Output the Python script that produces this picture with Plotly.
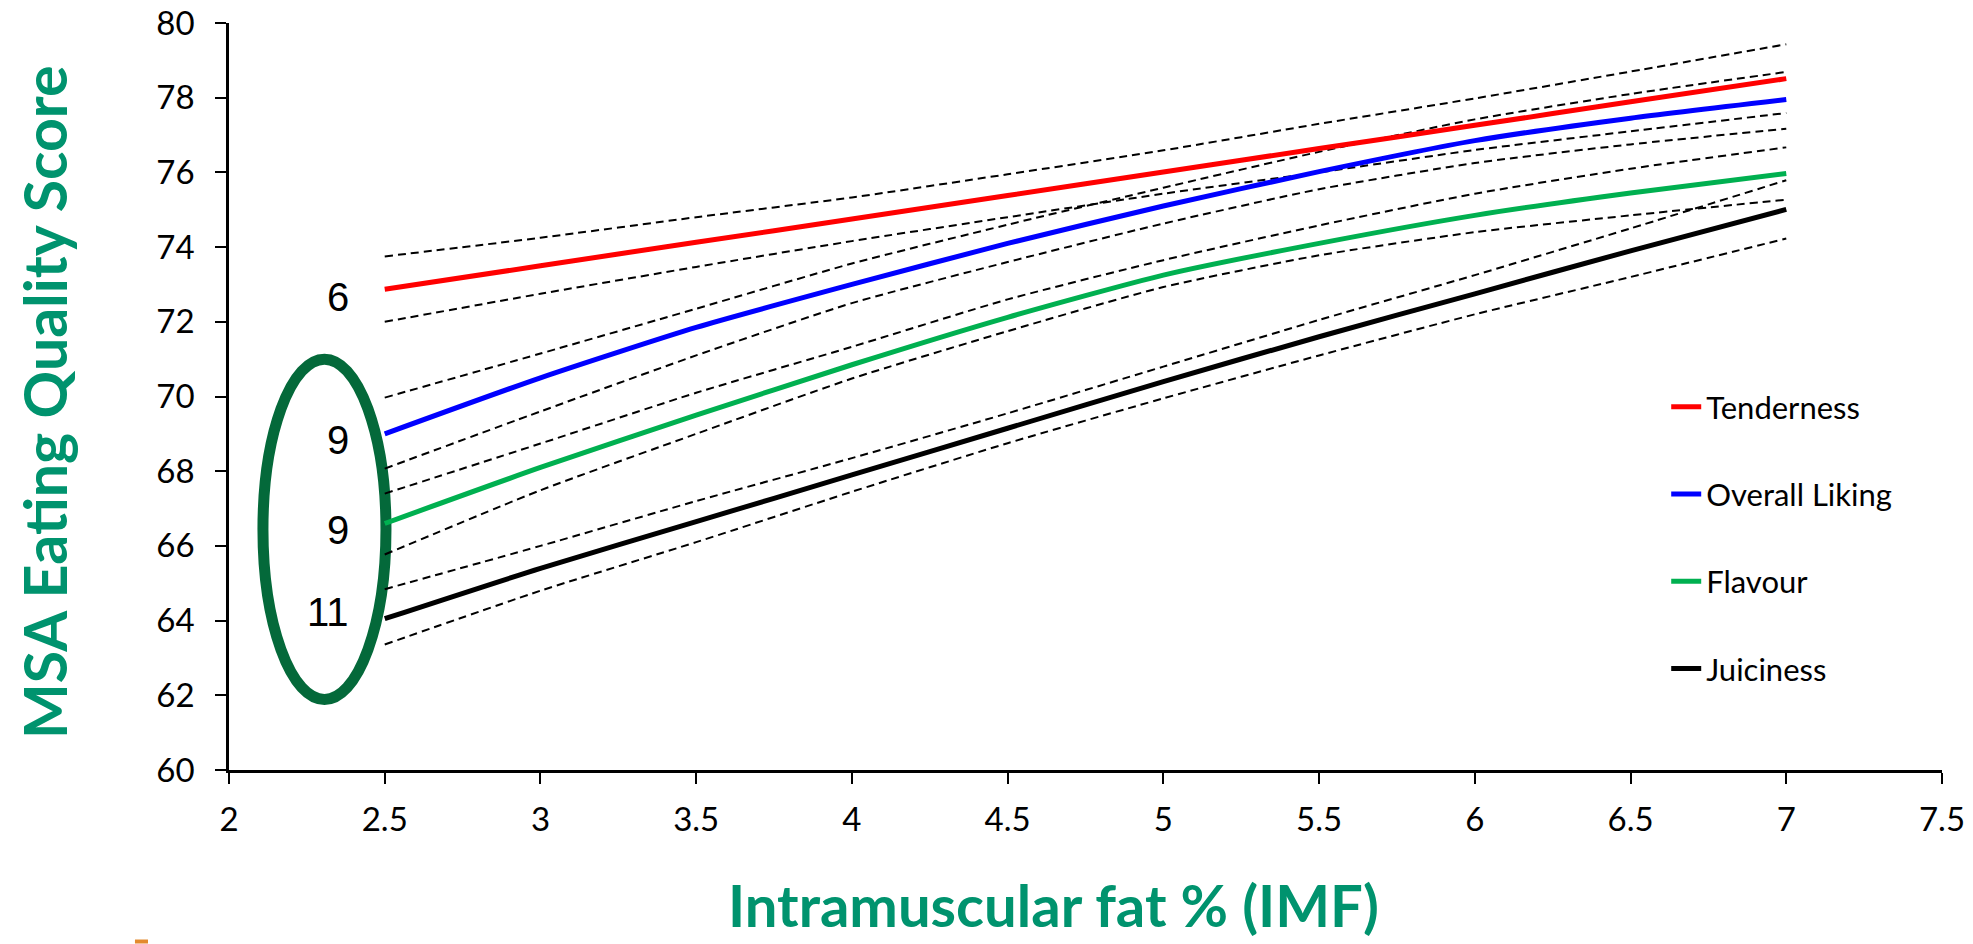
import plotly.graph_objects as go

# ---------------- data ----------------
imf = [2.5, 3.0, 3.5, 4.0, 4.5, 5.0, 5.5, 6.0, 6.5, 7.0]

tenderness    = [72.87, 73.50, 74.13, 74.75, 75.38, 76.01, 76.64, 77.26, 77.89, 78.51]
tenderness_hi = [73.75, 74.25, 74.80, 75.33, 75.95, 76.59, 77.30, 77.98, 78.70, 79.43]
tenderness_lo = [72.00, 72.75, 73.47, 74.16, 74.80, 75.43, 76.00, 76.60, 77.10, 77.59]

overall    = [69.00, 70.50, 71.85, 73.00, 74.10, 75.10, 76.02, 76.85, 77.45, 77.95]
overall_hi = [69.97, 71.15, 72.35, 73.56, 74.60, 75.59, 76.55, 77.42, 78.10, 78.69]
overall_lo = [68.07, 69.60, 71.10, 72.50, 73.60, 74.63, 75.55, 76.25, 76.75, 77.17]

flavour    = [66.60, 68.10, 69.50, 70.85, 72.12, 73.25, 74.10, 74.85, 75.45, 75.97]
flavour_hi = [67.40, 68.74, 70.10, 71.33, 72.60, 73.65, 74.58, 75.43, 76.10, 76.67]
flavour_lo = [65.77, 67.49, 69.00, 70.48, 71.75, 72.93, 73.78, 74.40, 74.85, 75.27]

juiciness    = [64.05, 65.40, 66.65, 67.90, 69.15, 70.40, 71.60, 72.75, 73.90, 75.01]
juiciness_hi = [64.84, 66.00, 67.20, 68.35, 69.55, 70.80, 72.05, 73.25, 74.50, 75.79]
juiciness_lo = [63.36, 64.80, 66.10, 67.45, 68.75, 69.95, 71.10, 72.20, 73.20, 74.23]

series_names  = ["Tenderness", "Overall Liking", "Flavour", "Juiciness"]
series_colors = ["#FF0000", "#0000FF", "#00B050", "#000000"]
series_mean = [tenderness, overall, flavour, juiciness]
series_hi   = [tenderness_hi, overall_hi, flavour_hi, juiciness_hi]
series_lo   = [tenderness_lo, overall_lo, flavour_lo, juiciness_lo]

count_labels = ["6", "9", "9", "11"]
count_label_x = [2.35, 2.35, 2.35, 2.318]
count_label_y = [72.66, 68.83, 66.42, 64.22]

title_green = "#00936E"

fig = go.Figure()

# confidence bands (dashed)
for hi, lo in zip(series_hi, series_lo):
    for band in (hi, lo):
        fig.add_trace(go.Scatter(
            x=imf, y=band, mode="lines", showlegend=False, hoverinfo="skip",
            line=dict(color="black", width=2, dash="8px,5px", shape="spline", smoothing=0.6),
        ))

# main lines
for i, (name, col, ys) in enumerate(zip(series_names, series_colors, series_mean)):
    fig.add_trace(go.Scatter(
        x=imf, y=ys, mode="lines", name=name, legendgroup=f"g{i}",
        line=dict(color=col, width=5, shape="spline", smoothing=0.6),
    ))

# count labels
for t, xx, yy in zip(count_labels, count_label_x, count_label_y):
    fig.add_annotation(x=xx, y=yy, xref="x", yref="y", text=t, showarrow=False,
                       font=dict(family="Liberation Sans, Arial", size=40, color="black"),
                       xanchor="center", yanchor="middle")

# ellipse around counts
fig.add_shape(type="circle", xref="x", yref="y", x0=2.109, x1=2.504, y0=61.89, y1=71.0,
              line=dict(color="#04693A", width=11), layer="below")

# small orange mark at the bottom edge
fig.add_shape(type="line", xref="paper", yref="paper", x0=-0.0549, x1=-0.0473,
              y0=-0.2296, y1=-0.2296, line=dict(color="#E38A2E", width=4))

# axis titles
fig.add_annotation(x=-0.108, y=0.4926, xref="paper", yref="paper",
                   text="<b>MSA Eating Quality Score</b>", textangle=-90, showarrow=False,
                   font=dict(family="Lato", size=59, color=title_green),
                   xanchor="center", yanchor="middle")
fig.add_annotation(x=0.4816, y=-0.180, xref="paper", yref="paper",
                   text="<b>Intramuscular fat % (IMF)</b>", showarrow=False,
                   font=dict(family="Lato", size=58, color=title_green),
                   xanchor="center", yanchor="middle")

fig.update_layout(
    width=1973, height=944,
    margin=dict(l=229, r=31, t=23, b=174, autoexpand=False),
    paper_bgcolor="white", plot_bgcolor="white",
    legend=dict(x=0.839, y=0.522, xanchor="left", yanchor="top",
                font=dict(family="Lato", size=31, color="black"),
                tracegroupgap=44, bgcolor="rgba(0,0,0,0)"),
    xaxis=dict(range=[2, 7.5], dtick=0.5, tick0=2, showgrid=False, zeroline=False,
               automargin=False,
               showline=True, linecolor="black", linewidth=2.5,
               ticks="outside", ticklen=11, tickwidth=2, tickcolor="black",
               ticklabelstandoff=8,
               tickfont=dict(family="Lato", size=33, color="black")),
    yaxis=dict(range=[60, 80], dtick=2, tick0=60, showgrid=False, zeroline=False,
               automargin=False,
               showline=True, linecolor="black", linewidth=2.5,
               ticks="outside", ticklen=11, tickwidth=2, tickcolor="black",
               ticklabelstandoff=14,
               tickfont=dict(family="Lato", size=33, color="black")),
)

fig.write_html("out.html")
